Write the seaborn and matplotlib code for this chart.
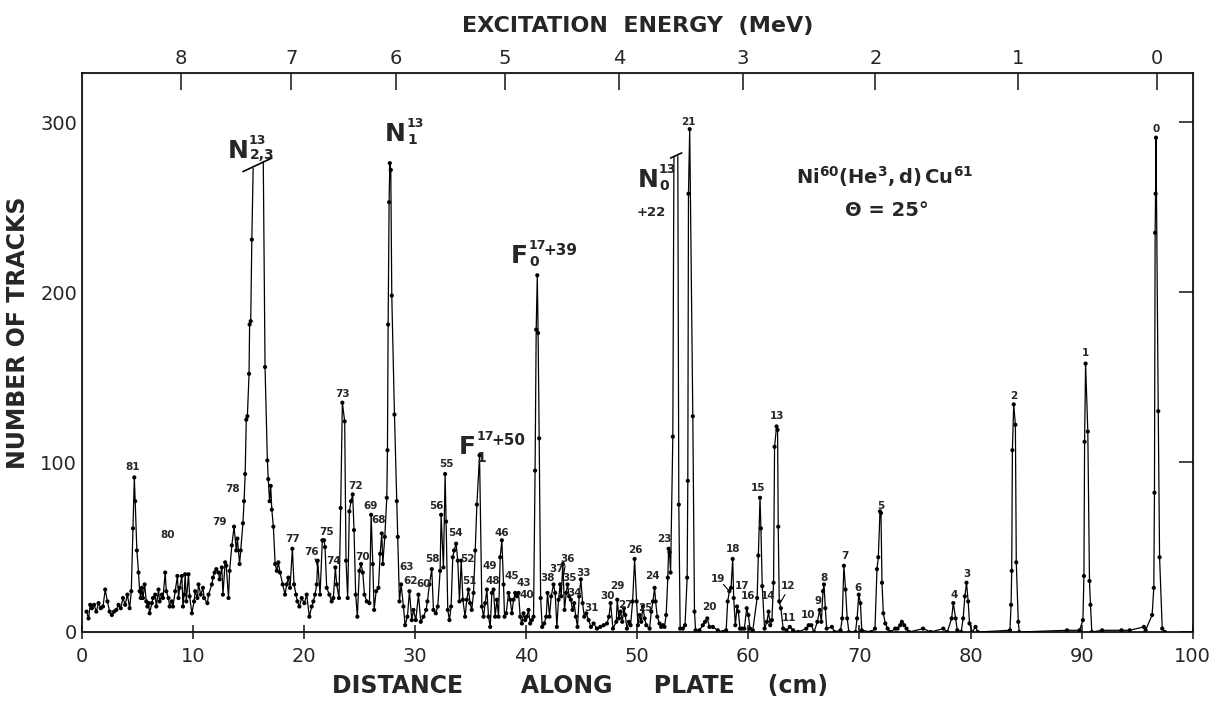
import numpy as np
import pandas as pd
import matplotlib.pyplot as plt
import seaborn as sns

# track counts (cm along plate, number of tracks)
x_cm = [
    0.42, 0.6, 0.75, 0.9, 1.1, 1.3, 1.5, 1.7, 1.9, 2.1, 2.3, 2.5, 2.7, 2.9, 3.1, 3.3, 3.5, 3.7, 3.9, 4.1,
    4.3, 4.45, 4.6, 4.72, 4.8, 4.95, 5.1, 5.2, 5.3, 5.4, 5.5, 5.65, 5.8, 5.9, 6.0, 6.1, 6.3, 6.4, 6.6, 6.7,
    6.9, 7.0, 7.2, 7.3, 7.5, 7.6, 7.8, 7.9, 8.1, 8.2, 8.4, 8.6, 8.7, 8.8, 9.0, 9.1, 9.2, 9.3, 9.4, 9.6,
    9.7, 9.9, 10.1, 10.2, 10.4, 10.5, 10.7, 10.9, 11.0, 11.3, 11.4, 11.7, 11.8, 11.95, 12.1, 12.3, 12.4, 12.6, 12.7, 12.9,
    13.0, 13.2, 13.3, 13.5, 13.7, 13.9, 14.0, 14.2, 14.3, 14.5, 14.6, 14.7, 14.8, 14.9, 15.05, 15.1, 15.2, 15.3, 15.42,
    16.33, 16.49, 16.7, 16.78, 16.9, 17.0, 17.1, 17.24, 17.4, 17.55, 17.69, 17.84, 18.08, 18.29, 18.44, 18.59, 18.74, 18.95, 19.1, 19.28,
    19.4, 19.58, 19.79, 20.03, 20.24, 20.48, 20.69, 20.84, 20.99, 21.14, 21.23, 21.44, 21.65, 21.8, 21.89, 22.04, 22.28, 22.49, 22.64, 22.82,
    22.94, 23.15, 23.3, 23.45, 23.66, 23.78, 23.93, 24.08, 24.23, 24.38, 24.5, 24.65, 24.8, 24.98, 25.13, 25.29, 25.44, 25.65, 25.89, 26.04,
    26.19, 26.31, 26.49, 26.7, 26.85, 27.0, 27.09, 27.27, 27.45, 27.51, 27.57, 27.66, 27.72, 27.81, 27.9, 28.14, 28.35, 28.44, 28.59, 28.74,
    28.95, 29.1, 29.31, 29.49, 29.7, 29.85, 30.06, 30.3, 30.51, 30.75, 30.99, 31.11, 31.29, 31.5, 31.65, 31.86, 32.04, 32.25, 32.34, 32.55,
    32.7, 32.79, 32.94, 33.09, 33.24, 33.39, 33.51, 33.69, 33.84, 33.99, 34.15, 34.3, 34.5, 34.65, 34.8, 34.95, 35.1, 35.26, 35.41, 35.56,
    35.8, 36.01, 36.16, 36.31, 36.46, 36.61, 36.76, 36.91, 37.06, 37.21, 37.36, 37.51, 37.66, 37.81, 37.96, 38.05, 38.2, 38.41, 38.56, 38.71,
    38.86, 39.01, 39.16, 39.31, 39.46, 39.61, 39.76, 39.91, 40.06, 40.21, 40.36, 40.51, 40.66, 40.8, 40.9, 41.0, 41.07, 41.17, 41.3, 41.44,
    41.62, 41.8, 41.92, 42.1, 42.25, 42.46, 42.61, 42.76, 42.91, 43.06, 43.15, 43.3, 43.45, 43.6, 43.72, 43.87, 44.02, 44.17, 44.32, 44.47,
    44.62, 44.77, 44.92, 45.08, 45.23, 45.41, 45.62, 45.83, 46.07, 46.37, 46.67, 46.97, 47.27, 47.45, 47.6, 47.81, 48.11, 48.2, 48.35, 48.5,
    48.65, 48.8, 48.92, 49.07, 49.25, 49.4, 49.58, 49.76, 49.94, 50.06, 50.21, 50.36, 50.51, 50.66, 50.81, 51.11, 51.26, 51.41, 51.56, 51.65,
    51.8, 52.0, 52.15, 52.3, 52.45, 52.6, 52.75, 52.82, 52.9, 53.0, 53.2, 53.3,
    53.65, 53.74, 53.86, 54.1, 54.3, 54.49, 54.55, 54.61, 54.72, 55.0, 55.15, 55.25, 55.6, 55.9, 56.1, 56.3, 56.5, 56.8, 57.25, 57.7,
    58.0, 58.14, 58.29, 58.44, 58.59, 58.68, 58.83, 58.98, 59.1, 59.25, 59.43, 59.64, 59.85, 60.0, 60.15, 60.4, 60.79, 60.9, 61.05, 61.13,
    61.25, 61.46, 61.67, 61.82, 61.97, 62.12, 62.27, 62.36, 62.54, 62.63, 62.69, 62.78, 62.93, 63.13, 63.43, 63.73, 64.03, 64.48, 65.22, 65.43,
    65.67, 65.91, 66.21, 66.42, 66.57, 66.72, 66.81, 66.93, 67.05, 67.52, 67.76, 68.3, 68.45, 68.6, 68.75, 68.9, 69.05, 69.64, 69.79, 69.94,
    70.09, 70.21, 71.04, 71.4, 71.58, 71.7, 71.85, 71.94, 72.03, 72.15, 72.33, 72.54, 72.78, 73.22, 73.43, 73.67, 73.82, 74.03, 74.24, 74.48,
    75.73, 76.42, 77.55, 77.91, 78.3, 78.45, 78.66, 78.81, 79.16, 79.34, 79.49, 79.64, 79.79, 79.91, 80.15, 80.45, 80.66, 83.55, 83.65, 83.71,
    83.77, 83.89, 84.04, 84.12, 84.3, 84.39, 88.69, 89.82, 90.12, 90.21, 90.27, 90.36, 90.56, 90.71, 90.8, 90.92, 91.84, 93.59, 94.33, 95.61,
    95.76, 96.35, 96.5, 96.56, 96.62, 96.66, 96.7, 96.9, 97.02, 97.26, 97.5,
]
tracks = [
    12, 8, 16, 14, 16, 12, 17, 14, 15, 25, 18, 12, 10, 12, 13, 16, 14, 20, 16, 22,
    14, 24, 61, 91, 77, 48, 35, 24, 20, 26, 20, 28, 18, 15, 17, 11, 17, 20, 22, 15,
    25, 18, 22, 20, 35, 24, 20, 15, 18, 15, 24, 33, 20, 26, 33, 15, 22, 34, 18, 34,
    21, 11, 18, 24, 20, 28, 22, 26, 20, 17, 22, 28, 32, 35, 37, 35, 31, 38, 22, 41,
    39, 20, 36, 51, 62, 48, 55, 40, 48, 64, 77, 93, 125, 127, 152, 181, 183, 231, 273,
    277, 156, 101, 90, 77, 86, 72, 62, 40, 36, 41, 35, 28, 22, 28, 32, 26, 49, 28, 22,
    18, 15, 20, 17, 22, 9, 15, 18, 22, 28, 42, 22, 54, 54, 50, 26, 22, 18, 20, 38,
    28, 20, 73, 135, 124, 42, 20, 71, 77, 81, 60, 22, 9, 36, 40, 35, 22, 18, 17, 69,
    40, 13, 24, 26, 46, 58, 40, 56, 79, 107, 181, 253, 276, 272, 198, 128, 77, 56, 18, 28,
    15, 4, 9, 24, 7, 13, 7, 22, 6, 9, 13, 18, 28, 37, 13, 11, 15, 36, 69, 38,
    93, 65, 13, 7, 15, 44, 48, 52, 42, 18, 42, 19, 9, 19, 25, 17, 13, 23, 48, 75,
    104, 15, 9, 17, 25, 9, 3, 23, 25, 9, 19, 9, 44, 54, 28, 9, 11, 23, 19, 11,
    19, 23, 21, 23, 9, 5, 11, 7, 9, 13, 5, 7, 9, 95, 178, 210, 176, 114, 20, 3,
    5, 9, 23, 9, 21, 28, 23, 3, 19, 28, 21, 40, 13, 23, 28, 21, 19, 13, 17, 9,
    3, 21, 31, 17, 9, 11, 7, 3, 5, 2, 3, 4, 5, 9, 17, 2, 6, 19, 8, 12,
    6, 14, 10, 2, 6, 4, 18, 43, 18, 4, 10, 6, 15, 8, 4, 2, 12, 18, 26, 18,
    9, 5, 3, 4, 3, 10, 32, 49, 47, 35, 115, 280,
    280, 75, 2, 2, 4, 32, 89, 258, 296, 127, 12, 1, 1, 4, 6, 8, 3, 3, 1, 0,
    1, 18, 24, 26, 43, 20, 4, 15, 12, 2, 2, 2, 14, 10, 2, 1, 20, 45, 79, 61,
    27, 2, 6, 12, 4, 7, 29, 109, 121, 119, 62, 18, 14, 2, 1, 3, 1, 0, 2, 4,
    4, 0, 6, 13, 6, 24, 28, 14, 2, 3, 0, 1, 8, 39, 25, 8, 0, 0, 8, 22,
    17, 1, 0, 2, 37, 44, 71, 70, 29, 11, 5, 2, 0, 2, 2, 4, 6, 4, 2, 0,
    2, 0, 2, 0, 8, 17, 8, 1, 0, 8, 21, 29, 18, 5, 0, 3, 0, 1, 16, 36,
    107, 134, 122, 41, 6, 0, 1, 1, 7, 33, 112, 158, 118, 30, 16, 0, 1, 1, 1, 3,
    1, 10, 26, 82, 235, 258, 291, 130, 44, 2, 0,
]
# peaks that run off scale: line ends at the slash, no dot drawn there
cut_ends = [15.42, 16.33, 53.3, 53.65]
gap_after = [15.42, 53.3]

# top scale: excitation energy (MeV) tick positions along the plate
energy_cm = [8.94, 18.86, 28.26, 38.07, 48.38, 59.5, 71.43, 84.25, 96.82]
energy_labels = ['8', '7', '6', '5', '4', '3', '2', '1', '0']

# level numbers written over the peaks
peak_names = ['81', '80', '79', '78', '77', '76', '75', '74', '73', '72', '70', '69', '68', '63', '62', '60',
              '58', '56', '55', '54', '52', '51', '49', '48', '46', '45', '43', '40', '38', '37', '36', '35',
              '34', '33', '31', '30', '29', '27', '26', '25', '24', '23', '21', '20', '19', '18', '17', '16',
              '15', '14', '13', '12', '11', '10', '9', '8', '7', '6', '5', '4', '3', '2', '1', '0']
name_x = [4.6, 7.7, 12.4, 13.6, 19.0, 20.7, 22.0, 22.7, 23.5, 24.6, 25.3, 26.0, 26.7, 29.2, 29.6, 30.8,
          31.6, 31.9, 32.85, 33.6, 34.7, 34.9, 36.7, 37.0, 37.8, 38.7, 39.75, 40.1, 41.9, 42.7, 43.7, 43.9,
          44.4, 45.2, 45.9, 47.3, 48.2, 48.9, 49.85, 50.7, 51.4, 52.4, 54.6, 56.5, 57.3, 58.6, 59.4, 60.0,
          60.9, 61.8, 62.6, 63.6, 63.7, 65.4, 66.25, 66.8, 68.7, 69.9, 71.9, 78.5, 79.7, 83.9, 90.35, 96.7]
name_y = [97, 57, 65, 84, 55, 47, 59, 42, 140, 86, 44, 74, 66, 38, 30, 28,
          43, 74, 99, 58, 43, 30, 39, 30, 58, 33, 29, 22, 32, 37, 43, 32,
          23, 35, 14, 21, 27, 16, 48, 14, 33, 55, 300, 15, 31, 49, 27, 21,
          85, 21, 127, 27, 8, 10, 18, 32, 45, 26, 74, 22, 34, 139, 164, 296]

# reaction products: symbol, mass number, level, extra, left edge (cm), baseline
products = [
    ('N', '13', '2,3', '', 13.1, 279, -1),
    ('N', '13', '1', '', 27.3, 289, -2),
    ('F', '17', '0', '+39', 38.6, 217, -2),
    ('F', '17', '1', '+50', 33.9, 105, -6),
    ('N', '13', '0', '', 50.0, 262, -2),
]

sns.set_style('white')
plt.rcParams['font.family'] = ['DejaVu Sans']

df = pd.DataFrame({'x': x_cm, 'tracks': tracks})
df['seg'] = df['x'].shift().isin(gap_after).cumsum()

fig = plt.figure(figsize=(12.22, 7.03), dpi=100)
ax = fig.add_axes([0.067, 0.101, 0.909, 0.795])

sns.lineplot(data=df, x='x', y='tracks', units='seg', estimator=None, sort=False,
             color='black', lw=0.9, ax=ax, legend=False)
dots = df[~df['x'].isin(cut_ends)]
sns.scatterplot(data=dots, x='x', y='tracks', s=9, color='black', edgecolor='none',
                ax=ax, legend=False, zorder=3)

# slashes where the big peaks go off scale
ax.plot([14.5, 17.1], [271, 279], color='black', lw=1.2)
ax.plot([53.0, 54.0], [279, 282], color='black', lw=1.2)

for name, lx, ly in zip(peak_names, name_x, name_y):
    ax.text(lx, ly, name, ha='center', va='center', fontsize=7.5, fontweight='bold')

# short leader lines from a few labels to their peaks
ax.plot([21.0, 21.25], [43, 38], color='black', lw=0.8)
ax.plot([57.75, 58.3], [28, 24], color='black', lw=0.8)
ax.plot([63.3, 62.85], [22, 17], color='black', lw=0.8)
ax.plot([43.5, 43.3], [39, 31], color='black', lw=0.8)

for sym, mass, lvl, extra, lx, ly, sub_dy in products:
    w = 15.5 if sym == 'N' else 12.8
    ax.annotate(sym, (lx, ly), fontsize=18, fontweight='bold', ha='left', va='baseline')
    ax.annotate(mass, (lx, ly), xytext=(w, 10), textcoords='offset points',
                fontsize=9, fontweight='bold', ha='left', va='baseline')
    ax.annotate(lvl, (lx, ly), xytext=(w + 0.5, sub_dy), textcoords='offset points',
                fontsize=10, fontweight='bold', ha='left', va='baseline')
    if extra:
        ax.annotate(extra, (lx, ly), xytext=(w + 11, 6), textcoords='offset points',
                    fontsize=11, fontweight='bold', ha='left', va='baseline')
ax.text(51.3, 247, '+22', fontsize=9.5, fontweight='bold', ha='center', va='center')

ax.text(72.3, 268, r'$\mathbf{Ni^{60}(He^{3},d)\,Cu^{61}}$', fontsize=14, ha='center', va='center')
ax.text(72.5, 248, '\u0398 = 25\u00b0', fontsize=14, fontweight='bold', ha='center', va='center')

ax.set_xlim(0, 100)
ax.set_ylim(0, 329)
ax.set_xticks(range(0, 101, 10))
ax.set_yticks([0, 100, 200, 300])
ax.tick_params(axis='x', direction='inout', length=10, width=1.2, labelsize=14, pad=6)
ax.tick_params(axis='y', direction='in', length=10, width=1.2, labelsize=14, right=True)
for sp in ax.spines.values():
    sp.set_color('black')
    sp.set_linewidth(1.2)
ax.set_xlabel('DISTANCE       ALONG     PLATE    (cm)', fontsize=17, fontweight='bold')
ax.xaxis.set_label_coords(0.448, -0.075)
ax.set_ylabel('NUMBER OF TRACKS', fontsize=17, fontweight='bold')
ax.yaxis.set_label_coords(-0.047, 0.535)

top = ax.twiny()
top.set_xlim(0, 100)
top.set_xticks(energy_cm)
top.set_xticklabels(energy_labels)
top.tick_params(axis='x', direction='in', length=12, width=1.2, labelsize=14, pad=4)
top.set_xlabel('EXCITATION  ENERGY  (MeV)', fontsize=16, fontweight='bold', labelpad=12)

fig.savefig('out.png', dpi=100)
